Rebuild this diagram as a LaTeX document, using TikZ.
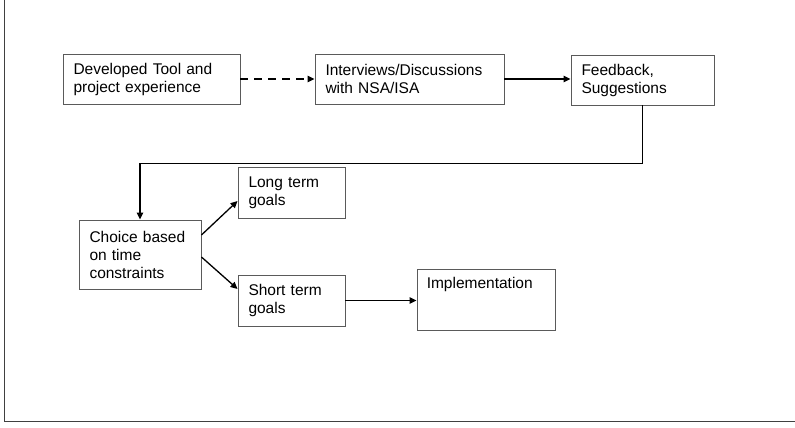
\documentclass[tikz,border=0pt]{standalone}
\usepackage{fontspec}
\setmainfont{Liberation Sans}
\usetikzlibrary{arrows.meta,calc}
\definecolor{boxgray}{HTML}{5A5A5A}
\definecolor{framegray}{HTML}{404040}
\tikzset{
  stepbox/.style={draw=boxgray, line width=0.9pt, rectangle, inner xsep=10.5pt,
    inner ysep=0pt, align=left, font=\fontsize{15.5}{18}\selectfont},
  flow/.style={line width=1.3pt, -{Triangle[length=7pt,width=6.5pt]}},
  framelin/.style={draw=framegray, line width=1pt}
}
\begin{document}
\begin{tikzpicture}[x=1pt,y=-1pt]
\useasboundingbox (0,0) rectangle (795,428);
% partial frame
\draw[framelin] (4,0) -- (4,421) -- (795,421);

% top row
\node[stepbox, text width=156pt, minimum height=50pt] (dev) at (151.5,79) {Developed Tool and\\project experience};
\node[stepbox, text width=168pt, minimum height=50pt] (int) at (409.5,79) {Interviews/Discussions\\with NSA/ISA};
\node[stepbox, text width=122pt, minimum height=50pt] (fb) at (642.5,80) {Feedback,\\Suggestions};

% lower part
\node[stepbox, text width=101pt, minimum height=69pt] (choice) at (140,254.5) {Choice based\\on time\\constraints};
\node[stepbox, text width=86pt, minimum height=51pt] (long) at (291.5,192.5) {Long term\\goals};
\node[stepbox, text width=86pt, minimum height=51pt] (short) at (291.5,300.5) {Short term\\goals};
\node[draw=boxgray, line width=0.9pt, minimum width=138pt, minimum height=61pt, inner sep=0pt] (impl) at (486,299.5) {};
\node[anchor=north west, inner sep=0pt, font=\fontsize{15.5}{18}\selectfont] (impltxt) at ([xshift=10pt,yshift=-9pt]impl.north west) {Implementation};

% connectors
\draw[flow, dash pattern=on 8pt off 6pt] (dev.east) -- (int.west);
\draw[flow] (int.east) -- (int.east -| fb.west);
\draw[flow] (fb.south) -- ++(0,58) -| (choice.north);
\draw[flow] ([yshift=19.5pt]choice.east) -- ([yshift=-8.5pt]long.west);
\draw[flow] ([yshift=-2.5pt]choice.east) -- ([yshift=11.5pt]short.west);
\draw[flow] (short.east) -- (short.east -| impl.west);
\end{tikzpicture}
\end{document}
